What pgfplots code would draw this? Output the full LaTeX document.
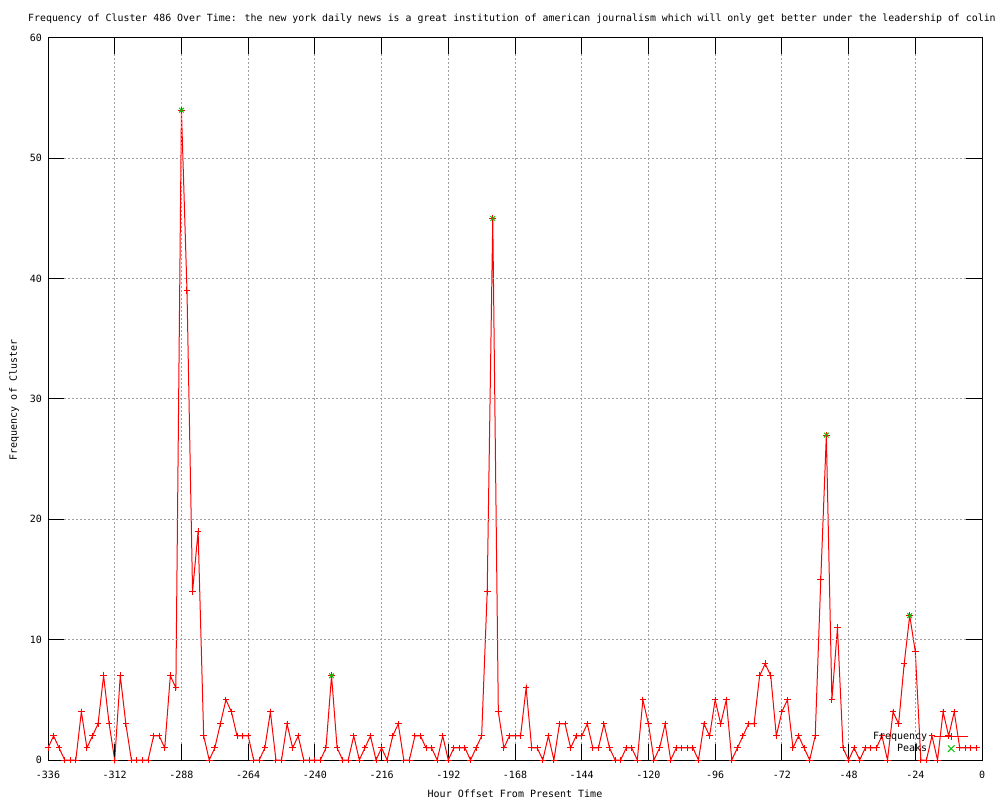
\documentclass[border=0pt]{standalone}
\usepackage{pgfplots}
\usepackage{pgfplotstable}
\pgfplotsset{compat=1.18}
\usepackage{fontspec}
\setmainfont{DejaVu Sans Mono}
\setmonofont{DejaVu Sans Mono}
\definecolor{gpred}{RGB}{255,0,0}
\definecolor{gpgreen}{RGB}{0,192,0}
\definecolor{gpgrid}{RGB}{160,160,160}

\pgfplotstableread{
x y
-336 1
-334 2
-332 1
-330 0
-328 0
-326 0
-324 4
-322 1
-320 2
-318 3
-316 7
-314 3
-312 0
-310 7
-308 3
-306 0
-304 0
-302 0
-300 0
-298 2
-296 2
-294 1
-292 7
-290 6
-288 54
-286 39
-284 14
-282 19
-280 2
-278 0
-276 1
-274 3
-272 5
-270 4
-268 2
-266 2
-264 2
-262 0
-260 0
-258 1
-256 4
-254 0
-252 0
-250 3
-248 1
-246 2
-244 0
-242 0
-240 0
-238 0
-236 1
-234 7
-232 1
-230 0
-228 0
-226 2
-224 0
-222 1
-220 2
-218 0
-216 1
-214 0
-212 2
-210 3
-208 0
-206 0
-204 2
-202 2
-200 1
-198 1
-196 0
-194 2
-192 0
-190 1
-188 1
-186 1
-184 0
-182 1
-180 2
-178 14
-176 45
-174 4
-172 1
-170 2
-168 2
-166 2
-164 6
-162 1
-160 1
-158 0
-156 2
-154 0
-152 3
-150 3
-148 1
-146 2
-144 2
-142 3
-140 1
-138 1
-136 3
-134 1
-132 0
-130 0
-128 1
-126 1
-124 0
-122 5
-120 3
-118 0
-116 1
-114 3
-112 0
-110 1
-108 1
-106 1
-104 1
-102 0
-100 3
-98 2
-96 5
-94 3
-92 5
-90 0
-88 1
-86 2
-84 3
-82 3
-80 7
-78 8
-76 7
-74 2
-72 4
-70 5
-68 1
-66 2
-64 1
-62 0
-60 2
-58 15
-56 27
-54 5
-52 11
-50 1
-48 0
-46 1
-44 0
-42 1
-40 1
-38 1
-36 2
-34 0
-32 4
-30 3
-28 8
-26 12
-24 9
-22 0
-20 0
-18 2
-16 0
-14 4
-12 2
-10 4
-8 1
-6 1
-4 1
-2 1
}\freqdata

\pgfplotstableread{
x y
-288 54
-234 7
-176 45
-56 27
-26 12
}\peakdata

\begin{document}
\begin{tikzpicture}[x=1pt,y=1pt,font=\fontsize{10pt}{12pt}\selectfont]
\useasboundingbox (0,0) rectangle (1000,800);
\clip (0,0) rectangle (1000,800);
\begin{axis}[
  at={(48pt,40pt)}, anchor=south west,
  scale only axis, width=934pt, height=722pt,
  xmin=-336, xmax=0, ymin=0, ymax=60,
  xtick={-336,-312,...,0},
  xticklabels={-336,-312,-288,-264,-240,-216,-192,-168,-144,-120,-96,-72,-48,-24,0},
  ytick={0,10,...,60},
  yticklabels={0,10,20,30,40,50,60},
  xticklabel style={anchor=base, inner sep=0pt, yshift=-18.6pt},
  yticklabel style={anchor=base east, inner sep=0pt, xshift=-6pt, yshift=-3.6pt},
  tick align=inside,
  major tick length=16pt,
  tick style={black, line width=1pt},
  axis line style={black, line width=1pt},
  grid=major,
  major grid style={gpgrid, line width=1pt, dash pattern=on 2pt off 2pt},
  axis on top,
  clip=false,
  legend plot pos=right,
  legend cell align=right,
  legend style={at={(0.986,0.007)}, anchor=south east, draw=none, fill=none,
    inner sep=0pt, column sep=5pt, row sep=0pt,
    nodes={inner sep=1.5pt}},
]
\addplot[draw=gpred, line width=1pt, mark=none, forget plot]
  table[x=x, y=y] {\freqdata};
\addplot[draw=gpred, only marks, mark=+, mark size=3.3pt, mark options={draw=gpred, line width=1pt},
  legend image code/.code={%
    \draw[gpred, line width=1pt] (0pt,0pt) -- (34pt,0pt);
    \draw[gpred, line width=1pt] (17pt,-3.3pt) -- (17pt,3.3pt);}]
  table[x=x, y=y] {\freqdata};
\addlegendentry{Frequency}
\addplot[draw=gpgreen, only marks, mark=x, mark size=3.3pt, mark options={draw=gpgreen, line width=1pt},
  legend image code/.code={%
    \draw[gpgreen, line width=1pt] (13.7pt,-3.3pt) -- (20.3pt,3.3pt);
    \draw[gpgreen, line width=1pt] (13.7pt,3.3pt) -- (20.3pt,-3.3pt);}]
  table[x=x, y=y] {\peakdata};
\addlegendentry{Peaks}
\end{axis}
\node[anchor=base west, inner sep=0pt, font=\fontsize{9.9pt}{12pt}\selectfont] at (28,778) {Frequency of Cluster 486 Over Time: the new york daily news is a great institution of american journalism which will only get better under the leadership of colin};
\node[anchor=base, inner sep=0pt, rotate=90] at (17,400) {Frequency of Cluster};
\node[anchor=base, inner sep=0pt] at (515,3) {Hour Offset From Present Time};
\end{tikzpicture}
\end{document}
